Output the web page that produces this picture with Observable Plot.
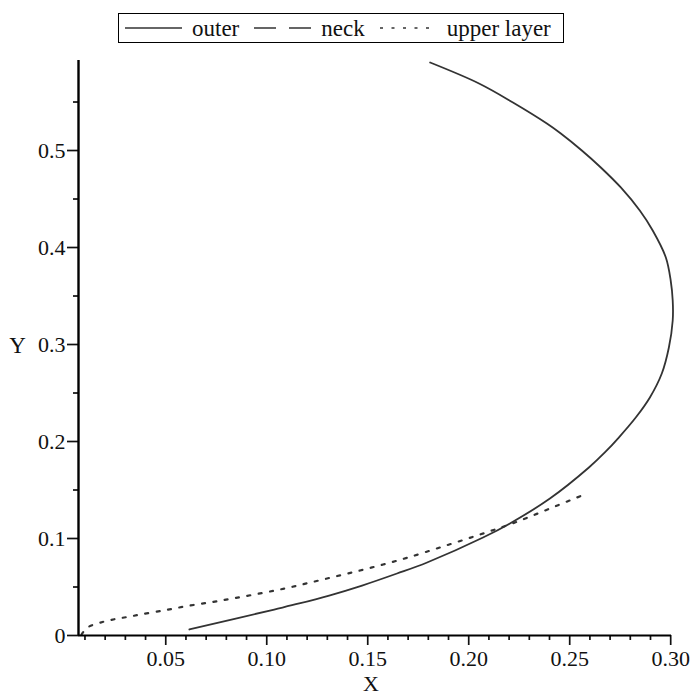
<!DOCTYPE html>
<html><head><meta charset="utf-8">
<script src="https://cdn.jsdelivr.net/npm/d3@7"></script>
<script src="https://cdn.jsdelivr.net/npm/@observablehq/plot@0.6"></script>
<style>
body{margin:0;background:#fff;font-family:"Liberation Serif","Times New Roman",serif;}
#legend{height:50px;position:relative;}
#legend .box{position:absolute;left:118px;top:13px;height:30px;border:1.5px solid #000;display:flex;align-items:center;padding:0 12px 0 6px;font-size:23px;color:#111;box-sizing:border-box;}
#legend .sw{display:block;}
#legend .lab{margin:0 15px 0 10px;line-height:1;}
#legend .lab:last-child{margin-right:0;}
</style>
</head><body>
<div id="legend"><div class="box"></div></div>
<div id="chart"></div>
<script>
// ---- data ----
const outerX = [0.0617,0.1037,0.1161,0.1309,0.1472,0.1645,0.1794,0.2071,0.2204,0.2402,0.2595,0.2674,0.2743,0.2827,0.2897,0.2956,0.2991,0.3010,0.3010,0.3000,0.2976,0.2911,0.2847,0.2753,0.2654,0.2560,0.2456,0.2387,0.2219,0.2051,0.1809];
const outerY = [0.0062,0.0268,0.0330,0.0412,0.0515,0.0639,0.0753,0.1010,0.1155,0.1412,0.1732,0.1887,0.2041,0.2247,0.2454,0.2701,0.2969,0.3247,0.3454,0.3660,0.3897,0.4175,0.4381,0.4619,0.4825,0.5000,0.5175,0.5278,0.5495,0.5691,0.5907];
const neckX = [];
const neckY = [];
const upperX = [0.0083,0.0112,0.0187,0.0251,0.0310,0.0374,0.0488,0.0607,0.0730,0.0844,0.0978,0.1101,0.1215,0.1339,0.1462,0.1576,0.1700,0.1873,0.2056,0.2229,0.2402,0.2585];
const upperY = [0.0010,0.0082,0.0139,0.0170,0.0191,0.0216,0.0258,0.0304,0.0345,0.0387,0.0438,0.0490,0.0546,0.0608,0.0670,0.0732,0.0804,0.0918,0.1041,0.1165,0.1309,0.1464];

const seriesNames = ["outer","neck","upper layer"];
const seriesDash = [null,"22,13","3,8.5"];

const xDomain = [0.0068, 0.3004];
const yDomain = [0, 0.5928];
const xMajorTicks = [0.05,0.10,0.15,0.20,0.25,0.30];
const xMinorTicks = [0.01,0.02,0.03,0.04,0.06,0.07,0.08,0.09,0.11,0.12,0.13,0.14,0.16,0.17,0.18,0.19,0.21,0.22,0.23,0.24,0.26,0.27,0.28,0.29];
const yMajorTicks = [0,0.1,0.2,0.3,0.4,0.5];
const yMinorTicks = [0.05,0.15,0.25,0.35,0.45,0.55];

const toRows = (xs, ys) => xs.map((x, i) => ({x, y: ys[i]}));
const outer = toRows(outerX, outerY);
const neck = toRows(neckX, neckY);
const upper = toRows(upperX, upperY);

const lineColor = "#333";

// ---- legend ----
const box = document.querySelector("#legend .box");
seriesNames.forEach((name, i) => {
  const ns = "http://www.w3.org/2000/svg";
  const s = document.createElementNS(ns, "svg");
  s.setAttribute("width", 57); s.setAttribute("height", 10); s.setAttribute("class","sw");
  const l = document.createElementNS(ns, "line");
  l.setAttribute("x1", 0); l.setAttribute("x2", 57); l.setAttribute("y1", 5); l.setAttribute("y2", 5);
  l.setAttribute("stroke", lineColor); l.setAttribute("stroke-width", 1.6);
  if (seriesDash[i]) l.setAttribute("stroke-dasharray", seriesDash[i]);
  s.appendChild(l);
  box.appendChild(s);
  const t = document.createElement("span");
  t.className = "lab"; t.textContent = name;
  box.appendChild(t);
});

// ---- chart ----
const chart = Plot.plot({
  width: 693,
  height: 649,
  marginTop: 10,
  marginBottom: 64,
  marginLeft: 78,
  marginRight: 22,
  style: {fontFamily: "'Liberation Serif','Times New Roman',serif", fontSize: "22px", color: "#111", background: "#fff"},
  x: {domain: xDomain},
  y: {domain: yDomain},
  marks: [
    Plot.line(outer, {x: "x", y: "y", stroke: lineColor, strokeWidth: 1.8, curve: "catmull-rom"}),
    Plot.line(neck, {x: "x", y: "y", stroke: lineColor, strokeWidth: 1.8, strokeDasharray: seriesDash[1], curve: "catmull-rom"}),
    Plot.line(upper, {x: "x", y: "y", stroke: lineColor, strokeWidth: 2.2, strokeDasharray: seriesDash[2], curve: "catmull-rom"}),
    Plot.axisX(xMajorTicks, {tickSize: 10, tickPadding: 5, tickFormat: d3.format(".2f"), strokeWidth: 1.7, label: null, fontSize: 22}),
    Plot.axisX(xMinorTicks, {tickSize: 5, tickFormat: () => "", strokeWidth: 1.7, label: null}),
    Plot.axisY(yMajorTicks, {tickSize: 11, tickPadding: 2, tickFormat: d => d === 0 ? "0" : d3.format(".1f")(d), strokeWidth: 1.7, label: null, fontSize: 22}),
    Plot.axisY(yMinorTicks, {tickSize: 5, tickFormat: () => "", strokeWidth: 1.7, label: null}),
    Plot.ruleX([xDomain[0]], {stroke: "#000", strokeWidth: 2.4}),
    Plot.ruleY([yDomain[0]], {stroke: "#000", strokeWidth: 2}),
    Plot.text(["X"], {frameAnchor: "bottom", lineAnchor: "middle", dy: 48, dx: -4, fontSize: 22, fill: "#111"}),
    Plot.text(["Y"], {frameAnchor: "left", textAnchor: "middle", dx: -61, dy: -2, fontSize: 23, fill: "#111"})
  ]
});
document.getElementById("chart").appendChild(chart);
</script>
</body></html>
